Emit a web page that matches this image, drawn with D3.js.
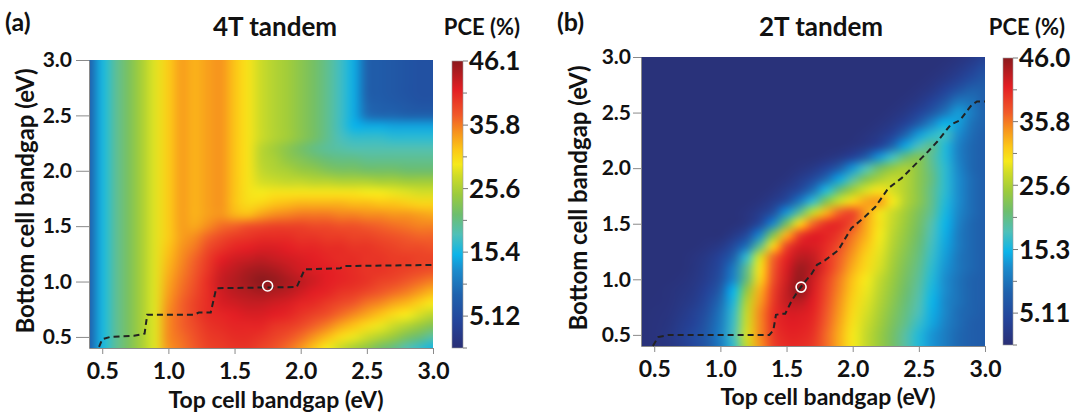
<!DOCTYPE html>
<html>
<head>
<meta charset="utf-8">
<script src="https://cdn.jsdelivr.net/npm/d3@7"></script>
<style>
  body { margin: 0; background: #fff; }
  svg text { font-family: Lato, "Open Sans", sans-serif; font-weight: bold; fill: #111; }
</style>
</head>
<body>
<svg id="chart" width="1081" height="418"></svg>
<script>
// bandgap grid (eV), same for both axes
const energies = [0.4,0.5,0.6,0.7,0.8,0.9,1.0,1.1,1.2,1.3,1.4,1.5,1.6,1.7,1.8,1.9,2.0,2.1,2.2,2.3,2.4,2.5,2.6,2.7,2.8,2.9,3.0];
const axisTicks = [0.5, 1.0, 1.5, 2.0, 2.5, 3.0];

// PCE (%), rows from bottom gap 3.0 (top) down to 0.4
const pce4T = [
  [8,15.5,19.5,22.5,25.5,28.5,31.5,34,33,34,34.5,32,30,27.5,26,25,23.5,22,20,17.5,14.5,8.5,7.5,7,6.5,6,6],
  [8,15.5,19.5,22.5,25.5,28.5,31.5,34,33,34,34.5,32,30,27.5,26,25,23.5,22,20,17.5,14.5,8.5,7.5,7,6.5,6,6],
  [8,15.5,19.5,22.5,25.5,28.5,31.5,34,33,34,34.5,32,30,27.5,26,25,23.5,22,20,17.5,14.5,8.5,7.5,7,6.5,6,6],
  [8,15.5,19.5,22.5,25.5,28.5,31.5,34,33,34,34.5,32,30,27.5,26,25,23.5,22,20,17.5,14.5,8.5,7.5,7,6.5,6,6],
  [8,15.5,19.5,22.5,25.5,28.5,31.5,34,33,34,34.5,32,30,27.5,26,25,23.5,22,20,17.5,14.5,9,8,7.5,7,6.5,6.5],
  [8,15.5,19.5,22.5,25.5,28.5,31.5,34,33,34,34.5,32,30,27.5,26,25,23.5,22,20,17.5,14.5,10,9,9,8.5,8.5,8.5],
  [8,15.5,19.5,22.5,25.5,28.5,31.5,34,33,34,34.5,32,30,27.5,26,25,23.5,22,20,17.5,15,14.5,14.5,14,14,14,14],
  [8,15.5,19.5,22.5,25.5,28.5,31.5,34,33,34,34.5,32,30,27.5,26,25,23.5,22,20,18,17,17,17,16.5,16.5,16.5,16.5],
  [8,15.5,19.5,22.5,25.5,28.5,31.5,34,33,34,34.5,32,30,26.5,25,23.5,22,20.5,19.5,19,18.5,18.5,18.5,18.5,18.5,18.5,18.5],
  [8,15.5,19.5,22.5,25.5,28.5,31.5,34,33,34,34.5,32,30,26.5,25.5,24,23,22,21,20.5,20.5,20,20,20,20,20,20],
  [8,15.5,19.5,22.5,25.5,28.5,31.5,34,33,34,34.5,32,30,27,26,25.5,24.5,24,23,22.5,22.5,22,22,22,21.5,21.5,21.5],
  [8,15.5,19.5,22.5,25.5,28.5,31.5,34,33,34,34.5,32,30,28,27.5,27,27,26.5,26.5,26,26,26,25.5,25.5,25,25,25],
  [8,15.5,19.5,22.5,25.5,28.5,31.5,34,33,34,34.5,32,30,29.5,30,30,30,30,30,30,30,29.5,29.5,29,28.5,28,28],
  [8,15.5,19.5,22.5,25.5,28.5,31.5,34,33,34,34.5,32,30.5,31,32,32.5,33,33,33,33,32.5,32.5,32,32,31.5,31,31],
  [8,15.5,19.5,22.5,25.5,28.5,31.5,34,33,34,34.5,33,32.5,34,35,35.5,36,36,36,35.5,35.5,35,35,34.5,34.5,34,33.5],
  [8,15.5,19.5,22.5,25.5,28.5,31.5,34,33.5,35,36.5,37,38,38.5,39,39,39,38.5,38.5,38,38,37.5,37,36.5,36,35.5,35.5],
  [8,15.5,19.5,22.5,25.5,28.5,31.5,34,35,37,38.5,39.5,40,40.5,40.5,40.5,40,40,39.5,39.5,39,39,38.5,38,37.5,37,37],
  [8,15.5,19.5,22.5,25.5,28.5,32,34.5,36,38.5,40,41,41.5,42,42,41.5,41,41,40.5,40.5,40,40,39.5,39,38.5,38.5,38],
  [8,15.5,19.5,22.5,25.5,28.5,32.5,35,37,39.5,41.5,42.5,43,43.5,43,42.5,42,41.5,41,40.5,40.5,40,40,39.5,39.5,39,39],
  [8,15.5,19.5,22.5,25.5,28.5,33,35.5,37.5,40,42.5,43.5,44.5,45,44.5,43.5,42.5,42,41.5,41,40.5,40,40,39.5,39,38.5,38],
  [8,15.5,19.5,22.5,25.5,28.5,33.5,36,38,40.5,43,44,45,46,45.5,44.5,43.5,42.5,41.5,41,40.5,40,39,38.5,37.5,36.5,35.5],
  [8,15.5,19.5,22.5,25.5,28.5,34,36.5,38.5,40.5,42.5,43.5,44,44.5,44,43.5,42.5,41.5,41,40,39.5,38.5,37.5,36.5,35.5,34,32.5],
  [8,15.5,19.5,22.5,25.5,28.5,34.5,37,39,40.5,42,42.5,43,43,42.5,42,41,40.5,39.5,38.5,37.5,36,35,33.5,32.5,31,29.5],
  [8,15.5,19.5,22.5,25.5,28.5,35,37,39,40.5,41,41.5,42,42,41.5,41,40,39,38,36.5,35,33.5,32,30.5,29.5,28,26.5],
  [8,15.5,19.5,22.5,25.5,28.5,35,37,38.5,40,40.5,41,41,41,40,39.5,38.5,37,35.5,33.5,32,30.5,29,27.5,26,24.5,23],
  [8,15.5,19.5,22.5,25.5,28.5,35,36.5,38,39.5,40,40.5,40.5,40,39,38,36.5,34.5,32.5,30.5,29,27.5,26,24.5,22.5,21,19],
  [8,15.5,19.5,22.5,25.5,28.5,34.5,36,37.5,39,39.5,40,40,39,38,36.5,34.5,32,29.5,27.5,25.5,24,22,20.5,18.5,17,15.5]
];

const pce2T = [
  [.5,.5,.5,.5,.5, .5,.5,.5,.5,.5, .5,.5,.5,.5,.5, .5,.5,.5,.5,.5, .5,.5,.5,.5,1, 2,3.5],
  [.5,.5,.5,.5,.5, .5,.5,.5,.5,.5, .5,.5,.5,.5,.5, .5,.5,.5,.5,.5, .5,.5,.5,1,2, 3.5,5.5],
  [.5,.5,.5,.5,.5, .5,.5,.5,.5,.5, .5,.5,.5,.5,.5, .5,.5,.5,.5,.5, .5,.5,1,2,3.5, 5.5,7],
  [.5,.5,.5,.5,.5, .5,.5,.5,.5,.5, .5,.5,.5,.5,.5, .5,.5,.5,.5,.5, .5,1,2,4,6.5, 8.5,8],
  [.5,.5,.5,.5,.5, .5,.5,.5,.5,.5, .5,.5,.5,.5,.5, .5,.5,.5,.5,.5, 1,2,4,7,10.5, 10,8],
  [.5,.5,.5,.5,.5, .5,.5,.5,.5,.5, .5,.5,.5,.5,.5, .5,.5,.5,.5,1, 2,4,7,10.5,13.5, 11,8.5],
  [.5,.5,.5,.5,.5, .5,.5,.5,.5,.5, .5,.5,.5,.5,.5, .5,.5,.5,1,2, 4,8,12,15,13.5, 10,8.5],
  [.5,.5,.5,.5,.5, .5,.5,.5,.5,.5, .5,.5,.5,.5,.5, .5,.5,1,2,4, 9,13.5,16.5,17.5,12.5, 9.5,8],
  [.5,.5,.5,.5,.5, .5,.5,.5,.5,.5, .5,.5,.5,.5,.5, .5,1,2,4,9, 14,18,20,16,11.5, 9,8],
  [.5,.5,.5,.5,.5, .5,.5,.5,.5,.5, .5,.5,.5,.5,1, 2,4,8,13,17.5, 21,23,19.5,16,11.5, 9,8],
  [.5,.5,.5,.5,.5, .5,.5,.5,.5,.5, .5,.5,1,2,4, 8,13,18,21.5,24, 25.5,23.5,20,16.5,12, 9,8],
  [.5,.5,.5,.5,.5, .5,.5,.5,.5,.5, .5,1,2.5,5,9.5, 14,19,23,25.5,27, 26,23.5,20.5,16.5,12.5, 9.5,8],
  [.5,.5,.5,.5,.5, .5,.5,.5,.5,.5, 1,2.5,5,10,16, 21,25,28,30,28, 26,23.5,20,16.5,12.5, 9.5,8],
  [.5,.5,.5,.5,.5, .5,.5,.5,.5,1, 2.5,5.5,11,17,23, 27.5,31,33.5,34,29.5, 26,23.5,20,16,12.5, 9.5,8],
  [.5,.5,.5,.5,.5, .5,.5,.5,1,2.5, 6,13,20,27,33, 37,38.5,34,30,27.5, 25,22.5,19.5,15.5,12, 9.5,8],
  [.5,.5,.5,.5,.5, .5,.5,.5,1.5,5, 12,22,31,36.5,40, 40.5,38,33.5,30,27, 24.5,22,18.5,15,11.5, 9,8],
  [.5,.5,.5,.5,.5, .5,.5,2,5,12, 23,33,39,41.5,41, 39.5,36,33,29.5,26.5, 24,21.5,18,14.5,11, 9,8],
  [.5,.5,.5,.5,.5, 1,2,5,10,20, 31,38.5,42,42,40.5, 38,35,32,29,26, 23.5,21,17.5,14,11, 9,8],
  [.5,.5,.5,.5,1, 2,4,8.5,17,28, 36.5,41,43.5,43,40, 37,34,31,28.5,25.5, 23,20.5,17,13.5,10.5, 9,8],
  [.5,.5,.5,.5,1.2, 2.5,5,11,20,30, 37.5,42,45,43.5,40, 36.5,33,30.5,28,25, 22.5,20,16.5,13,10.5, 9,8],
  [.5,.5,.5,.8,1.5, 3,6,12,21,31, 38,42.5,45.5,42.5,39, 35.5,32,29.5,27,24.5, 22,19.5,16,12.5,10, 8.5,8],
  [.5,.5,.7,1.2,2, 4,8,15,24,33, 39,43,46,42,38.5, 35,31.5,29,26.5,24, 21.5,19,15.5,12.5,10, 8.5,8],
  [.5,.6,.8,1.5,2.5, 5,9.5,16,26,34, 39.5,43,43.5,41.5,38, 34.5,31,28.5,26,23.5, 21,18.5,15,12,10, 8.5,8],
  [.5,.7,1,2,3.5, 6,10.5,17,27,35, 40,42,42,41,37.5, 34,30.5,28,25.5,23, 20.5,18,14.5,12,9.5, 8.5,7.5],
  [.5,.8,1.2,2.5,4, 7,11,17.5,27.5,35, 40,41.5,41.5,40.5,37, 33.5,30,27.5,25,22.5, 20,17,14,11.5,9.5, 8,7.5],
  [.5,.8,1.5,3,5, 7.5,11.5,18,28,35, 39.5,41,41,40,36.5, 33,29.5,27,24.5,22, 19,16,13,11,9, 8,7.5],
  [.5,.7,1.2,2.5,4.5, 7,11,17,27,34.5, 39,40.5,40.5,39.5,36.5, 33,29.5,27,24.5,22, 19,16,13,11,9, 8,7.5]
];

// colour bar tick labels
const barLabels4T = ['5.12', '15.4', '25.6', '35.8', '46.1'];
const barLabels2T = ['5.11', '15.3', '25.6', '35.8', '46.0'];

// optimum bottom gap for each top gap (dashed lines), [top, bottom]
const optimal4T = [[0.476,0.41],[0.50,0.48],[0.56,0.50],[0.74,0.51],[0.82,0.53],[0.84,0.70],[1.19,0.70],[1.23,0.72],[1.32,0.72],[1.36,0.93],[1.37,0.94],[1.97,0.95],[2.03,1.11],[2.30,1.12],[2.33,1.14],[3.0,1.15]];
const optimal2T = [[0.49,0.40],[0.53,0.48],[0.61,0.50],[1.37,0.50],[1.40,0.54],[1.42,0.68],[1.46,0.69],[1.49,0.69],[1.54,0.81],[1.59,0.90],[1.64,0.98],[1.69,1.05],[1.73,1.13],[1.79,1.17],[1.89,1.26],[1.99,1.46],[2.09,1.56],[2.17,1.65],[2.27,1.82],[2.37,1.91],[2.52,2.09],[2.57,2.15],[2.64,2.24],[2.74,2.39],[2.81,2.43],[2.90,2.57],[2.94,2.60],[3.0,2.60]];
const best4T = [1.75, 0.96];
const best2T = [1.61, 0.93];

// jet-like colour map, stops as fraction of the bar maximum
const cmapStops = [0, 0.09, 0.185, 0.27, 0.325, 0.395, 0.465, 0.535, 0.60, 0.64, 0.69, 0.75, 0.81, 0.90, 1];
const cmapColors = ['#2a2f76','#24449a','#1f62ad','#1b8bcc','#0cb4e9','#4fc0b8','#6dbe6e','#9ccb3c','#cfdc27','#f6e91b','#fcc817','#f7941d','#f15a29','#e31e24','#8b1a1d'];

const panels = [
  { id: 'a', label: '(a)', title: '4T tandem', grid: pce4T, barLabels: barLabels4T, line: optimal4T, best: best4T,
    plot: { x0: 89, x1: 433, y0: 60, y1: 348 }, bar: { x: 452, w: 11, y0: 61, y1: 348 },
    yTick: [13, 4], labelX: 5, titleX: 275, pceX: 482, xTitleX: 276, xTitleY: 408, yTitle: [34, 201] },
  { id: 'b', label: '(b)', title: '2T tandem', grid: pce2T, barLabels: barLabels2T, line: optimal2T, best: best2T,
    plot: { x0: 641, x1: 985, y0: 57, y1: 346 }, bar: { x: 1003, w: 10, y0: 58, y1: 345 },
    yTick: [8, 2], labelX: 557, titleX: 821, pceX: 1027, xTitleX: 828, xTitleY: 405, yTitle: [587, 198] }
];

const svg = d3.select('#chart');
const defs = svg.append('defs');

const drawHeat = function(g, grid, x, y, color) {
  const n = energies.length;
  const small = document.createElement('canvas');
  small.width = n; small.height = n;
  const sctx = small.getContext('2d');
  const img = sctx.createImageData(n, n);
  grid.forEach((row, j) => row.forEach((v, i) => {
    const c = d3.rgb(color(v));
    const k = 4 * (j * n + i);
    img.data[k] = c.r; img.data[k + 1] = c.g; img.data[k + 2] = c.b; img.data[k + 3] = 255;
  }));
  sctx.putImageData(img, 0, 0);

  const [px0, px1] = x.range();
  const [py1, py0] = y.range();
  const w = Math.round(px1 - px0), h = Math.round(py1 - py0);
  const big = document.createElement('canvas');
  big.width = w; big.height = h;
  const bctx = big.getContext('2d');
  bctx.imageSmoothingEnabled = true;
  bctx.imageSmoothingQuality = 'high';
  const half = (energies[1] - energies[0]) / 2;
  const lo = energies[0] - half, hi = energies[n - 1] + half;
  bctx.drawImage(small, 0, 0, n, n, x(lo) - px0, y(hi) - py0, x(hi) - x(lo), y(lo) - y(hi));

  g.append('image')
    .attr('x', px0).attr('y', py0)
    .attr('width', w).attr('height', h)
    .attr('preserveAspectRatio', 'none')
    .attr('href', big.toDataURL());
};

const drawPanel = function(p) {
  const g = svg.append('g');
  const ticks = p.barLabels.map(Number);
  const max = ticks[ticks.length - 1];
  const color = d3.scaleLinear()
    .domain(cmapStops.map(s => s * max))
    .range(cmapColors)
    .interpolate(d3.interpolateRgb)
    .clamp(true);

  const x = d3.scaleLinear().domain([0.4, 3.0]).range([p.plot.x0, p.plot.x1]);
  const y = d3.scaleLinear().domain([0.4, 3.0]).range([p.plot.y1, p.plot.y0]);

  drawHeat(g, p.grid, x, y, color);

  // axes
  const xAxis = g.append('g')
    .attr('transform', `translate(0,${p.plot.y1})`)
    .call(d3.axisBottom(x).tickValues(axisTicks).tickFormat(d3.format('.1f')).tickSize(6).tickPadding(9).tickSizeOuter(0));
  xAxis.selectAll('text').style('font-size', '23px');

  const yAxis = g.append('g')
    .attr('transform', `translate(${p.plot.x0},0)`)
    .call(d3.axisLeft(y).tickValues(axisTicks).tickFormat(d3.format('.1f')).tickSize(p.yTick[0]).tickPadding(p.yTick[1]).tickSizeOuter(0));
  yAxis.selectAll('text').style('font-size', '21px');

  [xAxis, yAxis].forEach(a => {
    a.select('.domain').attr('stroke', '#8a8a8a');
    a.selectAll('.tick line').attr('stroke', '#8a8a8a');
  });

  // optimum line and best point
  g.append('path')
    .datum(p.line)
    .attr('fill', 'none')
    .attr('stroke', '#222')
    .attr('stroke-width', 2)
    .attr('stroke-dasharray', '6,4')
    .attr('d', d3.line().x(d => x(d[0])).y(d => y(d[1])));

  g.append('circle')
    .attr('cx', x(p.best[0])).attr('cy', y(p.best[1])).attr('r', 5)
    .attr('fill', 'none').attr('stroke', '#fff').attr('stroke-width', 1.6);

  // colour bar
  const grad = defs.append('linearGradient')
    .attr('id', 'grad-' + p.id)
    .attr('x1', 0).attr('y1', 1).attr('x2', 0).attr('y2', 0);
  grad.selectAll('stop').data(cmapStops).enter().append('stop')
    .attr('offset', d => d)
    .attr('stop-color', (d, i) => cmapColors[i]);

  const b = p.bar;
  const c = d3.scaleLinear().domain([0, max]).range([b.y1, b.y0]);
  g.append('rect')
    .attr('x', b.x).attr('y', b.y0).attr('width', b.w).attr('height', b.y1 - b.y0)
    .attr('fill', `url(#grad-${p.id})`)
    .attr('stroke', '#999').attr('stroke-width', 0.6);

  const minor = [0].concat(d3.pairs(ticks, (a, bb) => (a + bb) / 2));
  g.selectAll('.minor-' + p.id).data(minor).enter()
    .append('line')
    .attr('x1', b.x + b.w).attr('x2', b.x + b.w + 4)
    .attr('y1', d => c(d)).attr('y2', d => c(d))
    .attr('stroke', '#777');
  g.selectAll('.major-' + p.id).data(ticks).enter()
    .append('line')
    .attr('x1', b.x + b.w).attr('x2', b.x + b.w + 5)
    .attr('y1', d => c(d)).attr('y2', d => c(d))
    .attr('stroke', '#777');
  g.selectAll('.barlabel-' + p.id).data(p.barLabels).enter()
    .append('text')
    .attr('x', b.x + b.w + 6)
    .attr('y', d => c(+d))
    .attr('dy', '0.36em')
    .style('font-size', '26px')
    .text(d => d);

  // texts
  g.append('text').attr('x', p.labelX).attr('y', 31).style('font-size', '25px').text(p.label);
  g.append('text').attr('x', p.titleX).attr('y', 36).attr('text-anchor', 'middle').style('font-size', '26px').text(p.title);
  g.append('text').attr('x', p.pceX).attr('y', 35).attr('text-anchor', 'middle').style('font-size', '22px').text('PCE (%)');
  g.append('text').attr('x', p.xTitleX).attr('y', p.xTitleY).attr('text-anchor', 'middle').style('font-size', '23px').text('Top cell bandgap (eV)');
  g.append('text')
    .attr('transform', `translate(${p.yTitle[0]},${p.yTitle[1]}) rotate(-90)`)
    .attr('text-anchor', 'middle')
    .style('font-size', '24px')
    .text('Bottom cell bandgap (eV)');
};

panels.forEach(drawPanel);
</script>
</body>
</html>
